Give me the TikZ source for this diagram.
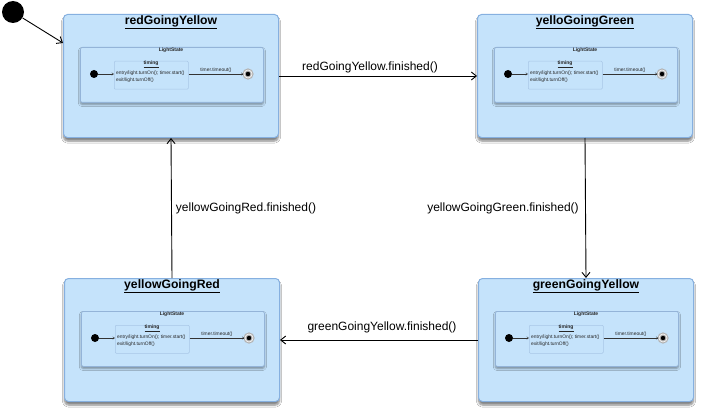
\documentclass[tikz,border=0pt]{standalone}
\usepackage{fontspec}
\setmainfont{Liberation Sans}
\usetikzlibrary{arrows.meta,shadows.blur,calc}
\definecolor{boxfill}{HTML}{C5E3FB}
\definecolor{boxdraw}{HTML}{86B0E0}
\definecolor{innerdraw}{HTML}{94B4D8}
\definecolor{timdraw}{HTML}{A8C6E6}
\tikzset{
  outerbox/.style={draw=boxdraw, line width=1pt, fill=boxfill, rounded corners=4pt,
    minimum width=215pt, minimum height=123pt, inner sep=0pt,
    blur shadow={shadow xshift=0pt, shadow yshift=-3.5pt, shadow opacity=50, shadow blur steps=6}},
  innerbox/.style={draw=innerdraw, line width=0.8pt, fill=boxfill, rounded corners=2pt,
    minimum width=183pt, minimum height=55pt, inner sep=0pt,
    blur shadow={shadow xshift=0pt, shadow yshift=-2pt, shadow opacity=40, shadow blur steps=4}},
  timingbox/.style={draw=timdraw, line width=0.5pt, fill=boxfill, rounded corners=1pt,
    minimum width=74pt, minimum height=28pt, inner sep=0pt},
  titletext/.style={font=\fontsize{12.2}{14}\selectfont\bfseries, inner sep=0pt},
  tinybold/.style={font=\fontsize{5}{6}\selectfont\bfseries, inner sep=0pt, text=black!85},
  tinytext/.style={font=\fontsize{4.9}{6.8}\selectfont, inner sep=0pt, align=left, text=black!85},
  initdot/.style={circle, fill=black, minimum size=8pt, inner sep=0pt},
  finaldot/.style={circle, fill=black, draw=gray!60, line width=1.2pt, double=white, double distance=0.6pt, minimum size=8pt, inner sep=0pt},
  smallarrow/.style={draw=black!80, line width=0.4pt, -{Straight Barb[length=2pt,width=2.5pt]}},
  trans/.style={draw=black, line width=0.9pt, -{Straight Barb[length=5pt,width=8pt]}},
  lbl/.style={font=\fontsize{12}{14}\selectfont, inner sep=0pt},
}
\newcommand\stbox[4]{%
  \begin{scope}[shift={(#3,#4)}]
    \node[outerbox, anchor=north west] (#1) at (0,0) {};
    \node[titletext] (#1-t) at (108,8) {\underline{#2}};
    \node[innerbox, anchor=north west] (#1-ls) at (17,33) {};
    \node[tinybold] (#1-lst) at (108,36) {LightState};
    \node[timingbox, anchor=north west] (#1-tm) at (51,47) {};
    \node[tinybold] (#1-tmt) at (88,50) {\underline{timing}};
    \node[tinytext, anchor=north west] (#1-en) at (53,56.5) {entry/light.turnOn(); timer.start()\\exit/light.turnOff()};
    \node[initdot] (#1-i) at (31,60) {};
    \node[finaldot] (#1-f) at (185,60) {};
    \draw[smallarrow] (#1-i) -- (#1-tm.west |- #1-i);
    \draw[smallarrow] (#1-tm.east |- #1-f) -- (#1-f)
      node[midway, above=0.8pt, tinytext] (#1-tl) {timer.timeout()};
  \end{scope}}
\begin{document}
\begin{tikzpicture}[x=1pt,y=-1pt]
\useasboundingbox (0,0) rectangle (703,417);
\fill[white] (0,0) rectangle (703,417);
\stbox{rgy}{redGoingYellow}{63}{14}
\stbox{ygg}{yelloGoingGreen}{477}{14}
\stbox{yr}{yellowGoingRed}{64}{278}
\stbox{gy}{greenGoingYellow}{478}{278}
\node[circle, fill=black, minimum size=22pt, inner sep=0pt] (start) at (13,12) {};
\coordinate (starttip) at (63,43);
\draw[trans] (start) -- (starttip);
\draw[trans] (rgy.east) -- (ygg.west);
\node[lbl] (l1) at (370,67) {redGoingYellow.finished()};
\draw[trans] (ygg.south) -- (gy.north);
\node[lbl] (l2) at (503,208) {yellowGoingGreen.finished()};
\draw[trans] (gy.west) -- (yr.east);
\node[lbl] (l3) at (382,327) {greenGoingYellow.finished()};
\draw[trans] (yr.north) -- (rgy.south);
\node[lbl] (l4) at (246,208) {yellowGoingRed.finished()};
\end{tikzpicture}
\end{document}
